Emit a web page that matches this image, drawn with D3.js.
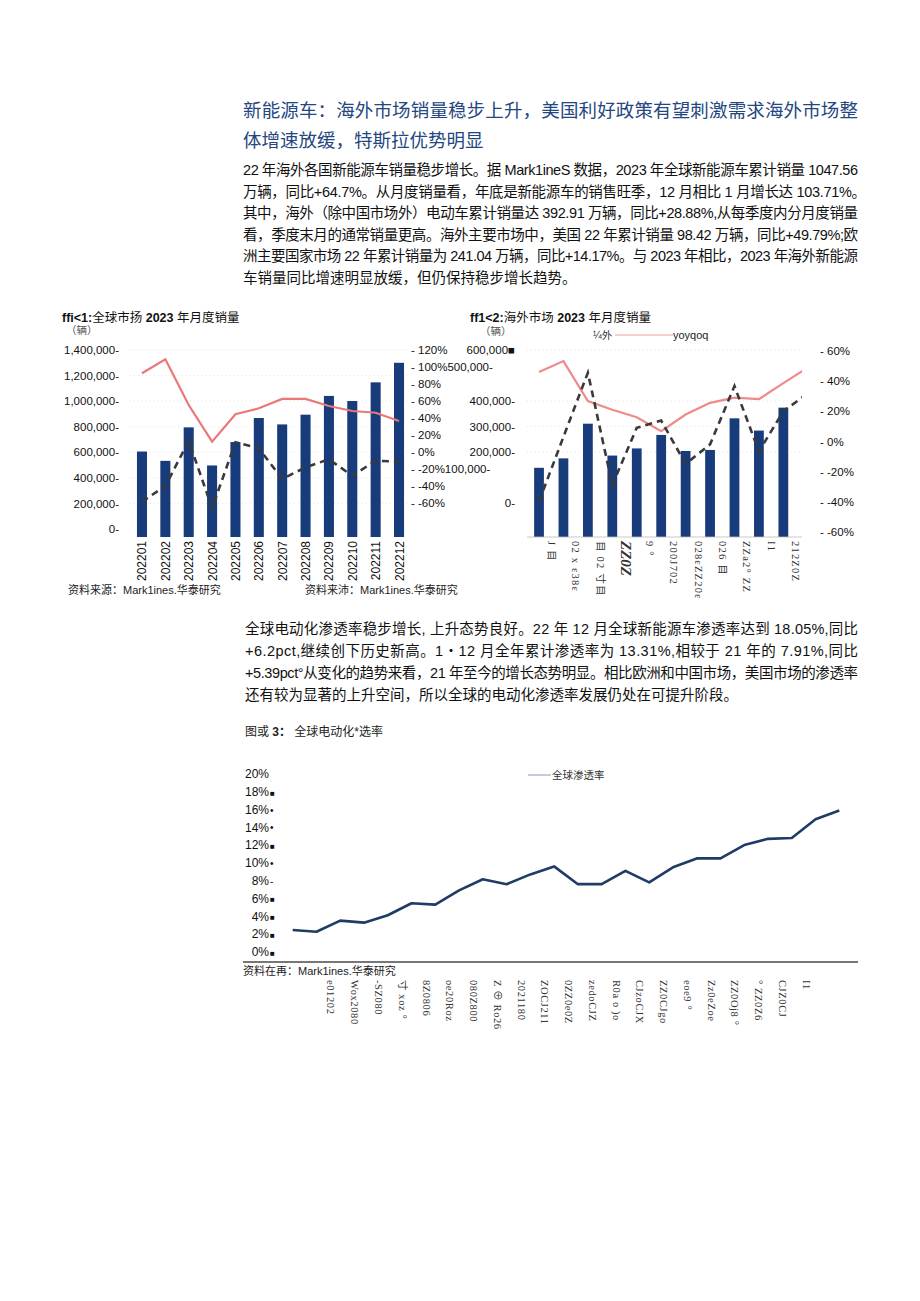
<!DOCTYPE html>
<html>
<head>
<meta charset="utf-8">
<script src="https://cdnjs.cloudflare.com/ajax/libs/d3/7.8.5/d3.min.js"></script>
<style>
  body { margin: 0; background: #fff; }
  svg text { font-family: "Liberation Sans", "Noto Sans CJK SC", sans-serif; }
</style>
</head>
<body>
<script>
// ---- text ----
var titleLines = [
  "新能源车：海外市场销量稳步上升，美国利好政策有望刺激需求海外市场整",
  "体增速放缓，特斯拉优势明显"
];
var para1 = [
  "22 年海外各国新能源车销量稳步增长。据 Mark1ineS 数据，2023 年全球新能源车累计销量 1047.56",
  "万辆，同比+64.7%。从月度销量看，年底是新能源车的销售旺季，12 月相比 1 月增长达 103.71%。",
  "其中，海外（除中国市场外）电动车累计销量达 392.91 万辆，同比+28.88%,从每季度内分月度销量",
  "看，季度末月的通常销量更高。海外主要市场中，美国 22 年累计销量 98.42 万辆，同比+49.79%;欧",
  "洲主要国家市场 22 年累计销量为 241.04 万辆，同比+14.17%。与 2023 年相比，2023 年海外新能源",
  "车销量同比增速明显放缓，但仍保持稳步增长趋势。"
];
var para2 = [
  "全球电动化渗透率稳步增长, 上升态势良好。22 年 12 月全球新能源车渗透率达到 18.05%,同比",
  "+6.2pct,继续创下历史新高。1・12 月全年累计渗透率为 13.31%,相较于 21 年的 7.91%,同比",
  "+5.39pct°从变化的趋势来看，21 年至今的增长态势明显。相比欧洲和中国市场，美国市场的渗透率",
  "还有较为显著的上升空间，所以全球的电动化渗透率发展仍处在可提升阶段。"
];

// ---- chart 1: global monthly sales ----
var months1 = ["202201","202202","202203","202204","202205","202206","202207","202208","202209","202210","202211","202212"];
var sales1 = [606000, 533000, 795000, 497000, 680000, 868000, 818000, 894000, 1041000, 1001000, 1147000, 1300000];
var yoy1 = [92.6, 109, 55.3, 12.1, 44.4, 51.4, 62.4, 62.4, 54.1, 48.2, 46.2, 36.5];
var qoq1 = [-58.5, -40, 13, -66, 11.4, 4.4, -31.8, -18, -8.6, -27.9, -10.2, -11.4];
var left1Ticks = [0, 200000, 400000, 600000, 800000, 1000000, 1200000, 1400000];
var right1Ticks = [120, 100, 80, 60, 40, 20, 0, -20, -40, -60];
var right1Labels = ["120%", "100%500,000-", "80%", "60%", "40%", "20%", "0%", "-20%100,000-", "-40%", "-60%"];

// ---- chart 2: overseas monthly sales ----
var months2 = months1.slice();
var sales2 = [138000, 175000, 311000, 186000, 214000, 267000, 204000, 208000, 332000, 284000, 374000, 420000];
var yoy2 = [46, 53.3, 26.7, 21, 16, 6.7, 17.8, 25.6, 29, 28, 38.7, 49];
var qoq2 = [-40, 3, 45.6, -29, 9, 13.8, -15, -2, 36.7, -6.7, 20, 31.8];
var left2Ticks = [0, 200000, 300000, 400000, 600000];
var left2Labels = ["0-", "200,000-", "300,000-", "400,000-", "600,000■"];
var right2Ticks = [60, 40, 20, 0, -20, -40, -60];
var xLabels2 = ["J     目", "02 x ε38ε", "目 02 寸目", "ZZ0Z", "9      °", "200J702", "028εZZ20ε", "026    目", "ZZa2°  ZZ", "I1", "212Z0Z"];

// ---- chart 3: global penetration ----
var months3 = ["202101","202102","202103","202104","202105","202106","202107","202108","202109","202110","202111","202112",
               "202201","202202","202203","202204","202205","202206","202207","202208","202209","202210","202211","202212"];
var pen3 = [2.45, 2.25, 3.5, 3.27, 4.1, 5.45, 5.3, 6.9, 8.15, 7.6, 8.7, 9.6, 7.6, 7.6, 9.1, 7.8, 9.5, 10.5, 10.5, 12.0, 12.7, 12.8, 14.9, 15.9];
var y3Ticks = [0, 2, 4, 6, 8, 10, 12, 14, 16, 18, 20];
var y3Marks = ["■", "■", "■", "■", "-", "•", "■", "•", "•", "■", ""];
var xLabels3 = ["e01202", "Wox2080", "-SZ080", "寸 xoz  °", "8Z0806", "oe20Roz", "080Z800", "Z ⊕ Ro26", "2021180", "ZOCJ211",
                "0ZZ0e0Z", "zedoCJZ", "R0a o )o", "CJzoCJX", "ZZ0CJgo", "eoe9    °", "Zz0eZoe", "ZZ0Oj8 °", "° ZZ0Z6", "CJZ0CJ", "I1"];

var svg = d3.select("body").append("svg")
    .attr("width", 920)
    .attr("height", 1301);

svg.append("rect").attr("width", 920).attr("height", 1301).attr("fill", "#fff");

// text blocks
function textBlock(lines, x, y0, lh, size, color, fullWidth) {
  lines.forEach(function(t, i) {
    var el = svg.append("text")
        .attr("x", x)
        .attr("y", y0 + i * lh)
        .attr("font-size", size)
        .attr("fill", color)
        .text(t);
    if (i < lines.length - 1) {
      el.attr("textLength", fullWidth[i] || fullWidth[0]).attr("lengthAdjust", "spacing");
    }
  });
}

textBlock(titleLines, 243, 117, 30, 18.5, "#24477f", [615]);
textBlock(para1, 243, 175, 21.5, 14.5, "#111", [615, 623, 615, 615, 615]);
textBlock(para2, 245, 634, 22, 14.5, "#111", [613]);

// ============ chart 1 ============
(function() {
  var bottom = 537;
  var x = d3.scaleBand().domain(months1).range([130.3, 410.7]).paddingInner(0.57).paddingOuter(0.285);
  var y = d3.scaleLinear().domain([0, 1400000]).range([529, 350]);
  var r = d3.scaleLinear().domain([-60, 120]).range([503, 350]);
  var bw = x.bandwidth();

  var g = svg.append("g");

  g.append("text").attr("x", 62).attr("y", 322).attr("font-size", 12.5).attr("fill", "#111")
    .html('<tspan font-weight="bold">ffi&lt;1:</tspan>全球市扬 <tspan font-weight="bold">2023</tspan> 年月度销量');
  g.append("text").attr("x", 66).attr("y", 334).attr("font-size", 10.5).attr("fill", "#555").text("（辆）");

  // faint grid
  g.append("g").selectAll("line").data(left1Ticks.slice(1)).enter().append("line")
      .attr("x1", 130).attr("x2", 410)
      .attr("y1", function(d) { return y(d); }).attr("y2", function(d) { return y(d); })
      .attr("stroke", "#e4e4e4").attr("stroke-dasharray", "1,3");

  g.append("g").selectAll("rect").data(sales1).enter().append("rect")
      .attr("x", function(d, i) { return x(months1[i]); })
      .attr("y", function(d) { return y(d); })
      .attr("width", bw)
      .attr("height", function(d) { return bottom - y(d); })
      .attr("fill", "#183b7c");

  var line = d3.line()
      .x(function(d, i) { return x(months1[i]) + bw / 2; })
      .y(function(d) { return r(d); });

  g.append("path").datum(yoy1).attr("d", line)
      .attr("fill", "none").attr("stroke", "#ea7878").attr("stroke-width", 2.2);
  g.append("path").datum(qoq1).attr("d", line)
      .attr("fill", "none").attr("stroke", "#3a3a3a").attr("stroke-width", 2.6)
      .attr("stroke-dasharray", "7,5");

  var la = g.append("g").attr("transform", "translate(119,0)")
      .call(d3.axisLeft(y).tickValues(left1Ticks).tickSize(0).tickPadding(0)
        .tickFormat(function(d) { return d3.format(",")(d) + "-"; }));
  la.select(".domain").remove();
  la.selectAll("text").attr("font-size", 11.5).attr("fill", "#111")
      .style("font-family", '"Liberation Sans", sans-serif');

  var ra = g.append("g").attr("transform", "translate(411,0)")
      .call(d3.axisRight(r).tickValues(right1Ticks).tickSize(0).tickPadding(0)
        .tickFormat(function(d, i) { return "-  " + right1Labels[i]; }));
  ra.select(".domain").remove();
  ra.selectAll("text").attr("font-size", 11.5).attr("fill", "#111")
      .style("font-family", '"Liberation Sans", sans-serif');

  g.append("g").selectAll("text").data(months1).enter().append("text")
      .attr("transform", function(d) { return "translate(" + (x(d) + bw / 2 + 4.5) + ",541) rotate(-90)"; })
      .attr("text-anchor", "end")
      .attr("font-size", 12).attr("fill", "#111")
      .text(function(d) { return d; });

  g.append("text").attr("x", 68).attr("y", 594).attr("font-size", 11).attr("fill", "#222")
      .text("资料来源：Mark1ines.华泰研究");
  g.append("text").attr("x", 305).attr("y", 594).attr("font-size", 11).attr("fill", "#222")
      .text("资料来沛：Mark1ines.华泰研究");
})();

// ============ chart 2 ============
(function() {
  var bottom = 537;
  var x = d3.scaleBand().domain(months2).range([526.8, 820]).paddingInner(0.6).paddingOuter(0.3);
  var y = d3.scaleLinear().domain([0, 600000]).range([503, 350]);
  var r = d3.scaleLinear().domain([-60, 60]).range([531.7, 351]);
  var bw = x.bandwidth();

  var g = svg.append("g");

  svg.append("defs").append("clipPath").attr("id", "clip2")
    .append("rect").attr("x", 520).attr("y", 330).attr("width", 282).attr("height", 215);

  g.append("text").attr("x", 470).attr("y", 322).attr("font-size", 12.5).attr("fill", "#111")
    .html('<tspan font-weight="bold">ff1&lt;2:</tspan>海外市场 <tspan font-weight="bold">2023</tspan> 年月度销量');
  g.append("text").attr("x", 480).attr("y", 335).attr("font-size", 10.5).attr("fill", "#555").text("（辆）");

  // legend
  g.append("text").attr("x", 593).attr("y", 339).attr("font-size", 10.5).attr("fill", "#333").text("¼外");
  g.append("line").attr("x1", 615).attr("x2", 673).attr("y1", 335).attr("y2", 335)
      .attr("stroke", "#f0a0a0").attr("stroke-width", 1.2);
  g.append("text").attr("x", 673).attr("y", 339).attr("font-size", 11).attr("fill", "#222").text("yoyqoq");

  var plot = g.append("g").attr("clip-path", "url(#clip2)");

  plot.append("g").selectAll("line").data(left2Ticks.slice(1)).enter().append("line")
      .attr("x1", 527).attr("x2", 802)
      .attr("y1", function(d) { return y(d); }).attr("y2", function(d) { return y(d); })
      .attr("stroke", "#e6e6e6").attr("stroke-dasharray", "1,3");

  plot.append("g").selectAll("rect").data(sales2).enter().append("rect")
      .attr("x", function(d, i) { return x(months2[i]); })
      .attr("y", function(d) { return y(d); })
      .attr("width", bw)
      .attr("height", function(d) { return bottom - y(d); })
      .attr("fill", "#183b7c");

  var line = d3.line()
      .x(function(d, i) { return x(months2[i]) + bw / 2; })
      .y(function(d) { return r(d); });

  plot.append("path").datum(yoy2).attr("d", line)
      .attr("fill", "none").attr("stroke", "#ee8a8a").attr("stroke-width", 2.2);
  plot.append("path").datum(qoq2).attr("d", line)
      .attr("fill", "none").attr("stroke", "#3a3a3a").attr("stroke-width", 2.6)
      .attr("stroke-dasharray", "7,5");

  plot.append("line").attr("x1", 527).attr("x2", 802).attr("y1", bottom).attr("y2", bottom)
      .attr("stroke", "#bbb").attr("stroke-width", 0.8);

  var la = g.append("g").attr("transform", "translate(515,0)")
      .call(d3.axisLeft(y).tickValues(left2Ticks).tickSize(0).tickPadding(0)
        .tickFormat(function(d, i) { return left2Labels[i]; }));
  la.select(".domain").remove();
  la.selectAll("text").attr("font-size", 11.5).attr("fill", "#111")
      .style("font-family", '"Liberation Sans", sans-serif');

  var ra = g.append("g").attr("transform", "translate(820,0)")
      .call(d3.axisRight(r).tickValues(right2Ticks).tickSize(0).tickPadding(0)
        .tickFormat(function(d) { return "-  " + d + "%"; }));
  ra.select(".domain").remove();
  ra.selectAll("text").attr("font-size", 11.5).attr("fill", "#111")
      .style("font-family", '"Liberation Sans", sans-serif');

  g.append("g").selectAll("text").data(xLabels2).enter().append("text")
      .attr("transform", function(d, i) { return "translate(" + (x(months2[i]) + bw / 2 + 9) + ",541) rotate(90)"; })
      .attr("font-size", function(d) { return d === "ZZ0Z" ? 15 : 10.5; })
      .attr("font-weight", function(d) { return d === "ZZ0Z" ? "bold" : null; })
      .attr("font-style", function(d) { return d === "ZZ0Z" ? "italic" : null; })
      .attr("letter-spacing", function(d) { return d === "ZZ0Z" ? 0 : 1.2; })
      .attr("fill", "#333")
      .style("font-family", '"Liberation Serif", "Noto Sans CJK SC", serif')
      .text(function(d) { return d; });
})();

// ============ chart 3 ============
(function() {
  var x = d3.scalePoint().domain(months3).range([292.7, 839.3]);
  var y = d3.scaleLinear().domain([0, 20]).range([951.7, 774]);

  var g = svg.append("g");

  g.append("text").attr("x", 245).attr("y", 736).attr("font-size", 12).attr("fill", "#222")
    .html('图或 <tspan font-weight="bold">3：</tspan> 全球电动化*选率');

  // legend
  g.append("line").attr("x1", 528).attr("x2", 551).attr("y1", 775).attr("y2", 775)
      .attr("stroke", "#8a9ab8").attr("stroke-width", 1);
  g.append("text").attr("x", 552).attr("y", 779).attr("font-size", 10.5).attr("fill", "#333").text("全球渗透率");

  var ya = g.append("g").attr("transform", "translate(269,0)")
      .call(d3.axisLeft(y).tickValues(y3Ticks).tickSize(0).tickPadding(0)
        .tickFormat(function(d) { return d + "%"; }));
  ya.select(".domain").remove();
  ya.selectAll("text").attr("font-size", 12).attr("fill", "#111")
      .style("font-family", '"Liberation Sans", sans-serif');

  g.append("g").selectAll("text").data(y3Ticks).enter().append("text")
      .attr("x", 270)
      .attr("y", function(d) { return y(d) + 4; })
      .attr("font-size", function(d, i) { return y3Marks[i] === "■" ? 8 : 10; })
      .attr("fill", "#111")
      .text(function(d, i) { return y3Marks[i]; });

  var line = d3.line()
      .x(function(d, i) { return x(months3[i]); })
      .y(function(d) { return y(d); });

  g.append("path").datum(pen3).attr("d", line)
      .attr("fill", "none").attr("stroke", "#1f3b66").attr("stroke-width", 2.6)
      .attr("stroke-linejoin", "round");

  g.append("line").attr("x1", 243).attr("x2", 858).attr("y1", 962).attr("y2", 962)
      .attr("stroke", "#777").attr("stroke-width", 2);

  g.append("text").attr("x", 243).attr("y", 975).attr("font-size", 11).attr("fill", "#222")
      .text("资料在再：Mark1ines.华泰研究");

  g.append("g").selectAll("text").data(xLabels3).enter().append("text")
      .attr("transform", function(d, i) { return "translate(" + (x(months3[i + 1]) + 11) + ",980) rotate(90)"; })
      .attr("font-size", 10.5)
      .attr("letter-spacing", 0.6)
      .attr("fill", "#333")
      .style("font-family", '"Liberation Serif", "Noto Sans CJK SC", serif')
      .text(function(d) { return d; });
})();
</script>
</body>
</html>
